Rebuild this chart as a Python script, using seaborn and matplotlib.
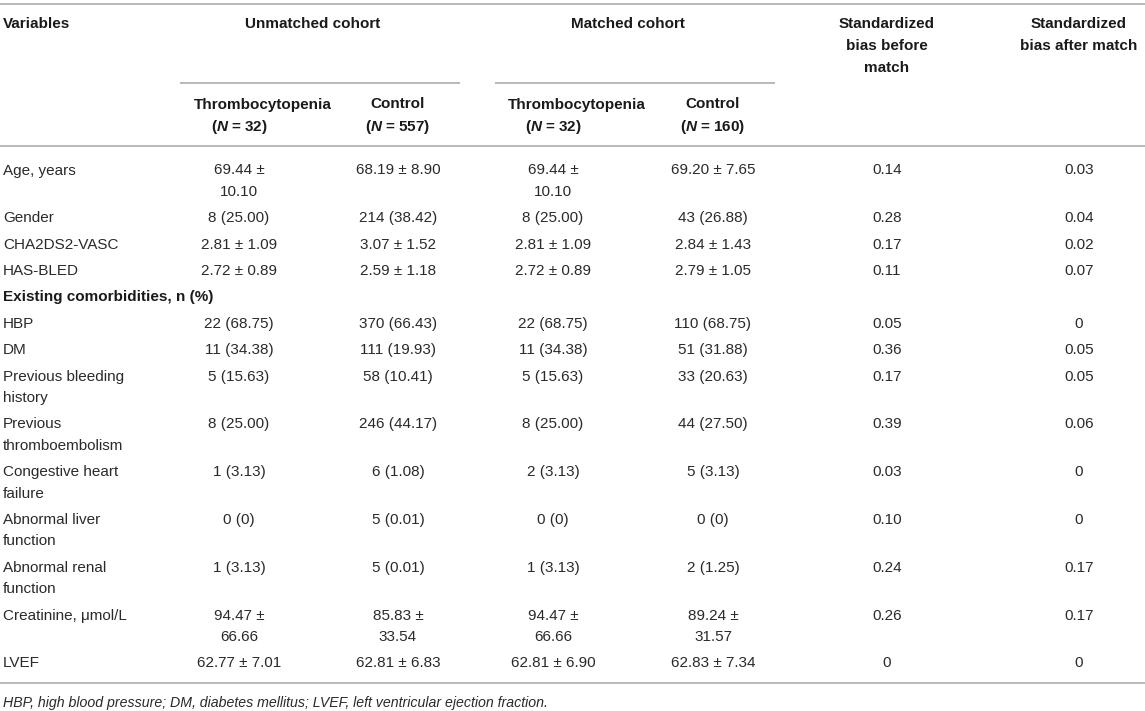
import matplotlib
matplotlib.use("Agg")
import matplotlib.pyplot as plt
import seaborn as sns

sns.set_theme(style="white")
plt.rcParams['font.family'] = ['Liberation Sans', 'DejaVu Sans']
plt.rcParams['mathtext.fontset'] = 'custom'
plt.rcParams['mathtext.it'] = 'Liberation Sans:italic:bold'
plt.rcParams['mathtext.rm'] = 'Liberation Sans:bold'
plt.rcParams['mathtext.bf'] = 'Liberation Sans:bold'

# ---------------- data ----------------
variables = ["Age, years", "Gender", "CHA2DS2-VASC", "HAS-BLED",
             "Existing comorbidities, n (%)", "HBP", "DM",
             "Previous bleeding\nhistory", "Previous\nthromboembolism",
             "Congestive heart\nfailure", "Abnormal liver\nfunction",
             "Abnormal renal\nfunction", "Creatinine, \u03bcmol/L", "LVEF"]
section_rows = ["Existing comorbidities, n (%)"]
unmatched_thrombo = ["69.44 \u00b1\n10.10", "8 (25.00)", "2.81 \u00b1 1.09", "2.72 \u00b1 0.89", "",
                     "22 (68.75)", "11 (34.38)", "5 (15.63)", "8 (25.00)", "1 (3.13)",
                     "0 (0)", "1 (3.13)", "94.47 \u00b1\n66.66", "62.77 \u00b1 7.01"]
unmatched_control = ["68.19 \u00b1 8.90", "214 (38.42)", "3.07 \u00b1 1.52", "2.59 \u00b1 1.18", "",
                     "370 (66.43)", "111 (19.93)", "58 (10.41)", "246 (44.17)", "6 (1.08)",
                     "5 (0.01)", "5 (0.01)", "85.83 \u00b1\n33.54", "62.81 \u00b1 6.83"]
matched_thrombo = ["69.44 \u00b1\n10.10", "8 (25.00)", "2.81 \u00b1 1.09", "2.72 \u00b1 0.89", "",
                   "22 (68.75)", "11 (34.38)", "5 (15.63)", "8 (25.00)", "2 (3.13)",
                   "0 (0)", "1 (3.13)", "94.47 \u00b1\n66.66", "62.81 \u00b1 6.90"]
matched_control = ["69.20 \u00b1 7.65", "43 (26.88)", "2.84 \u00b1 1.43", "2.79 \u00b1 1.05", "",
                   "110 (68.75)", "51 (31.88)", "33 (20.63)", "44 (27.50)", "5 (3.13)",
                   "0 (0)", "2 (1.25)", "89.24 \u00b1\n31.57", "62.83 \u00b1 7.34"]
bias_before = ["0.14", "0.28", "0.17", "0.11", "", "0.05", "0.36", "0.17", "0.39",
               "0.03", "0.10", "0.24", "0.26", "0"]
bias_after = ["0.03", "0.04", "0.02", "0.07", "", "0", "0.05", "0.05", "0.06",
              "0", "0", "0.17", "0.17", "0"]

group_headers = ["Unmatched cohort", "Matched cohort"]
sub_headers = ["Thrombocytopenia", "Control", "Thrombocytopenia", "Control"]
sub_n = ["32", "557", "32", "160"]
bias_headers = ["Standardized\nbias before\nmatch", "Standardized\nbias after match"]
footnote = "HBP, high blood pressure; DM, diabetes mellitus; LVEF, left ventricular ejection fraction."

# ---------------- layout ----------------
W, H = 1145, 711
fig = plt.figure(figsize=(W / 100, H / 100), dpi=100)
ax = fig.add_axes([0, 0, 1, 1])
ax.set_xlim(0, W)
ax.set_ylim(H, 0)
ax.axis("off")

FS = 11
TXT = "#2a2a2a"
TXT_B = "#1a1a1a"
RULE = "#b9b9b9"
LINE = 21.4       # wrapped-line spacing (px)
ROW = 26.4        # single-line row height (px)
BASE = 5.5        # visual centre -> baseline

col_x = [239, 398, 553, 713, 887, 1079]
cols = [unmatched_thrombo, unmatched_control, matched_thrombo, matched_control,
        bias_before, bias_after]


def put(x, y, s, ha="center", weight="normal", style="normal", spacing=LINE, size=FS):
    color = TXT_B if weight == "bold" else TXT
    for i, line in enumerate(s.split("\n")):
        ax.text(x, y + i * spacing + BASE, line, ha=ha, va="baseline", fontsize=size,
                fontweight=weight, fontstyle=style, color=color)


def hrule(y, x0=0, x1=W):
    ax.plot([x0, x1], [y, y], color=RULE, lw=1.4, solid_capstyle="butt")


# rules
hrule(4)
hrule(83, 180, 460)
hrule(83, 495, 775)
hrule(146)

# header
put(3, 23, "Variables", ha="left", weight="bold")
put(313, 23, group_headers[0], weight="bold")
put(628, 23, group_headers[1], weight="bold")
put(col_x[4], 23, bias_headers[0], weight="bold", spacing=22)
put(col_x[5], 23, bias_headers[1], weight="bold", spacing=22)
for i in range(4):
    if sub_headers[i] == "Thrombocytopenia":
        put(col_x[i] - 45.5, 103, sub_headers[i], ha="left", weight="bold")
    else:
        put(col_x[i], 103, sub_headers[i], weight="bold")
    put(col_x[i], 125, r"($\mathit{N}$ = " + sub_n[i] + ")", weight="bold")

# body
y = 169
for r, var in enumerate(variables):
    nlines = max([var.count("\n") + 1] + [c[r].count("\n") + 1 for c in cols])
    is_sec = var in section_rows
    put(3, y, var, ha="left", weight="bold" if is_sec else "normal")
    for cx, c in zip(col_x, cols):
        if c[r]:
            put(cx, y, c[r])
    y += ROW + LINE * (nlines - 1)

hrule(683)
put(3, 701, footnote, ha="left", style="italic", size=10.2)

fig.savefig("out.png", dpi=100, facecolor="white")
